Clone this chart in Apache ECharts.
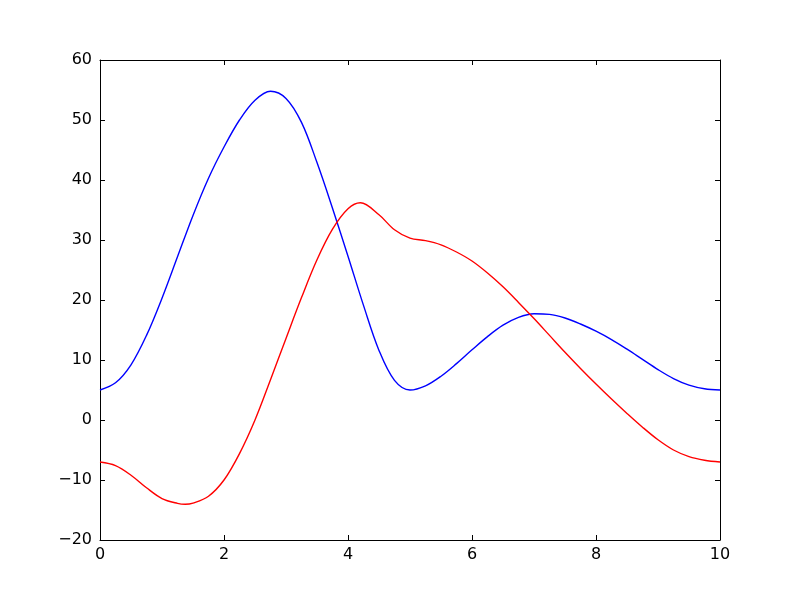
<!DOCTYPE html>
<html>
<head>
<meta charset="utf-8">
<script src="https://cdn.jsdelivr.net/npm/echarts@6/dist/echarts.min.js"></script>
<style>html,body{margin:0;padding:0;background:#fff}#c{width:800px;height:600px}</style>
</head>
<body>
<div id="c"></div>
<script>
const blueX = [0,0.25,0.5,0.75,1,1.25,1.5,1.75,2,2.25,2.5,2.75,3,3.25,3.5,3.75,4,4.25,4.5,4.75,5,5.25,5.5,5.75,6,6.25,6.5,6.75,7,7.25,7.5,7.75,8,8.25,8.5,8.75,9,9.25,9.5,9.75,10];
const blueValues = [5,6.2,9.2,14.1,20.3,27.2,34.1,40.3,45.5,50.0,53.3,54.8,53.6,49.6,42.9,35.3,27.3,19.1,11.6,6.6,5,5.7,7.3,9.4,11.7,13.9,15.8,17.1,17.7,17.6,17.0,16.0,14.8,13.4,11.8,10.1,8.4,6.9,5.8,5.2,5];
const redX = [0,0.25,0.5,0.75,1,1.25,1.375,1.5,1.75,2,2.25,2.5,2.75,3,3.25,3.5,3.75,4,4.2,4.5,4.75,5,5.25,5.5,5.75,6,6.25,6.5,6.75,7,7.25,7.5,7.75,8,8.25,8.5,8.75,9,9.25,9.5,9.75,10];
const redValues = [-7,-7.6,-9.2,-11.3,-13.1,-13.9,-14.05,-13.85,-12.7,-10,-5.6,0,6.7,13.6,20.4,26.7,31.8,35.2,36.2,34.2,31.7,30.3,29.9,29.2,28.0,26.5,24.5,22.2,19.6,16.9,14.1,11.3,8.6,6.0,3.5,1.1,-1.2,-3.3,-5.0,-6.1,-6.7,-7];
const xTicks = [0,2,4,6,8,10];
const yTicks = [-20,-10,0,10,20,30,40,50,60];

const chart = echarts.init(document.getElementById('c'), null, {renderer:'canvas'});
const fontFam = '"DejaVu Sans", sans-serif';
const fmt = v => String(v).replace('-', '\u2212');
const axisLine = {show:true, onZero:false, lineStyle:{color:'#000', width:1}};
const tick = {show:true, inside:true, length:5, lineStyle:{color:'#000', width:1}};
chart.setOption({
  animation:false,
  backgroundColor:'#fff',
  grid:{left:100, right:80, top:60, bottom:60, containLabel:false},
  xAxis:[
    {type:'value', min:xTicks[0], max:xTicks[xTicks.length-1], interval:2, position:'bottom', axisLine, axisTick:tick, splitLine:{show:false},
     axisLabel:{color:'#000', fontSize:16, fontFamily:fontFam, margin:7, formatter:fmt}},
    {type:'value', min:xTicks[0], max:xTicks[xTicks.length-1], interval:2, position:'top', axisLine, axisTick:tick, splitLine:{show:false}, axisLabel:{show:false}}
  ],
  yAxis:[
    {type:'value', min:yTicks[0], max:yTicks[yTicks.length-1], interval:10, position:'left', axisLine, axisTick:tick, splitLine:{show:false},
     axisLabel:{color:'#000', fontSize:16, fontFamily:fontFam, margin:8, formatter:fmt}},
    {type:'value', min:yTicks[0], max:yTicks[yTicks.length-1], interval:10, position:'right', axisLine, axisTick:tick, splitLine:{show:false}, axisLabel:{show:false}}
  ],
  series:[
    {type:'line', data:blueX.map((x,i)=>[x,blueValues[i]]), smooth:0.35, showSymbol:false, lineStyle:{color:'#0000ff', width:1.4}, itemStyle:{color:'#0000ff'}},
    {type:'line', data:redX.map((x,i)=>[x,redValues[i]]), smooth:0.35, showSymbol:false, lineStyle:{color:'#ff0000', width:1.4}, itemStyle:{color:'#ff0000'}}
  ]
});
</script>
</body>
</html>
